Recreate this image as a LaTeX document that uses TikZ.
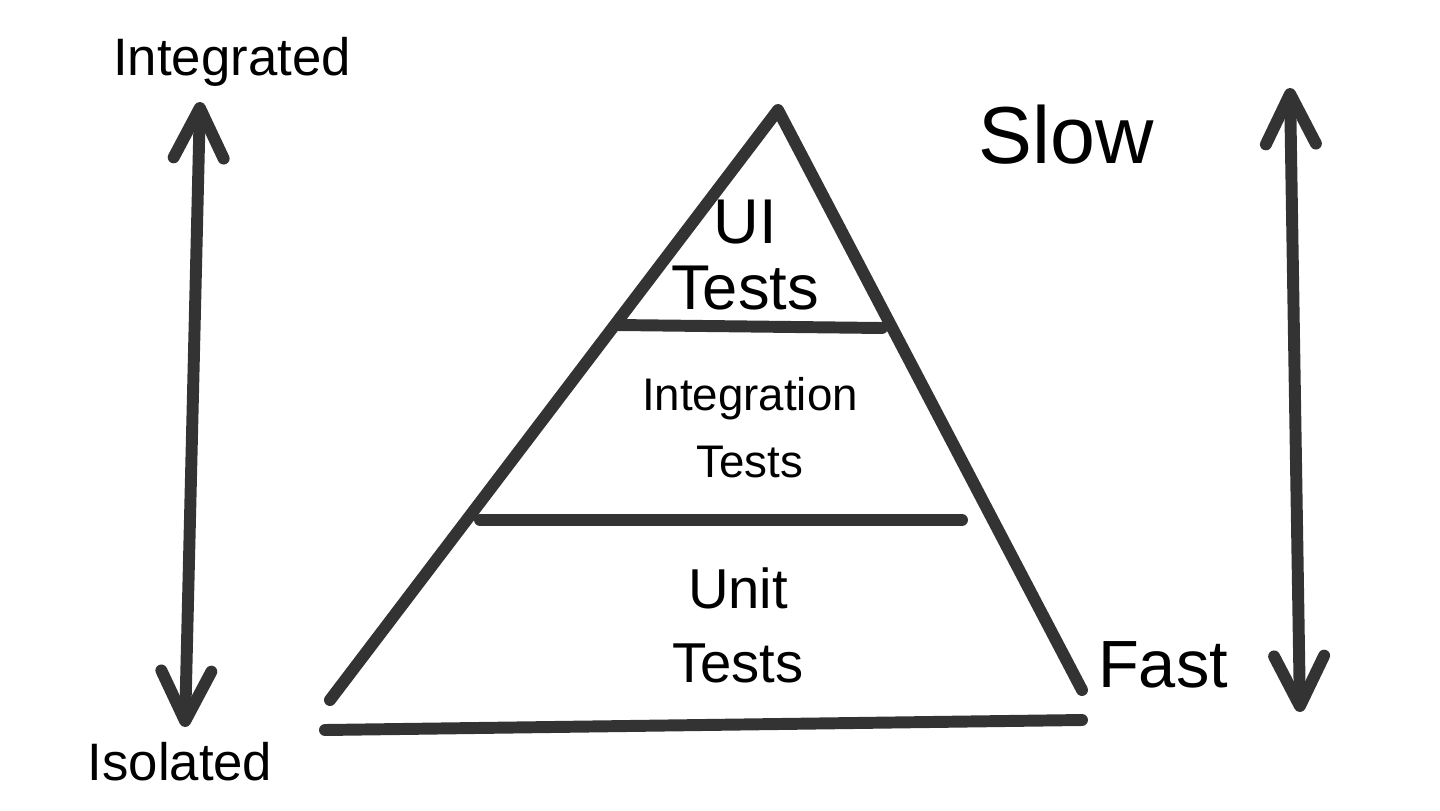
\documentclass[tikz,border=0pt]{standalone}
\usepackage{fontspec}
\setmainfont{Liberation Sans}
\usepackage{tikz}
\usetikzlibrary{arrows.meta}

\tikzset{
  pen/.style={line width=3.4pt, draw=black!80, line cap=round, line join=round},
  axis/.style={pen, {Straight Barb[length=5mm, width=5mm, round]}-{Straight Barb[length=5mm, width=5mm, round]}},
  label/.style={text=black, align=center, inner sep=1pt}
}

\begin{document}
\begin{tikzpicture}
  \useasboundingbox (0,0) rectangle (14.4,8.1);

  % ── Pyramid outline ──
  \coordinate (apex)  at (7.78,7.00);
  \coordinate (left)  at (3.30,1.10);
  \coordinate (right) at (10.82,1.20);
  \draw[pen] (left) -- (apex) -- (right);
  \coordinate (baseL) at (3.25,0.80);
  \coordinate (baseR) at (10.82,0.90);
  \draw[pen] (baseL) -- (baseR);

  % layer dividers
  \coordinate (upL) at (6.17,4.85);
  \coordinate (upR) at (8.82,4.82);
  \draw[pen] (upL) -- (upR);
  \coordinate (lowL) at (4.80,2.90);
  \coordinate (lowR) at (9.62,2.90);
  \draw[pen] (lowL) -- (lowR);

  % ── Layer labels ──
  \node[label, font=\fontsize{18}{19}\selectfont] (ui) at (7.45,5.55) {UI\\Tests};
  \node[label, font=\fontsize{13}{19}\selectfont] (integ) at (7.50,3.82) {Integration\\Tests};
  \node[label, font=\fontsize{16}{21}\selectfont] (unit) at (7.38,1.85) {Unit\\Tests};

  % ── Left scale ──
  \node[label, font=\fontsize{15}{17}\selectfont] (integrated) at (2.32,7.48) {Integrated};
  \node[label, font=\fontsize{15}{17}\selectfont] (isolated) at (1.80,0.48) {Isolated};
  \coordinate (lTop) at (2.00,7.08);
  \coordinate (lBot) at (1.85,0.83);
  \draw[axis] (lTop) -- (lBot);

  % ── Right scale ──
  \node[label, font=\fontsize{23}{25}\selectfont] (slow) at (10.66,6.75) {Slow};
  \node[label, font=\fontsize{19}{21}\selectfont] (fast) at (11.63,1.45) {Fast};
  \coordinate (rTop) at (12.90,7.22);
  \coordinate (rBot) at (13.00,0.98);
  \draw[axis] (rTop) -- (rBot);
\end{tikzpicture}
\end{document}
